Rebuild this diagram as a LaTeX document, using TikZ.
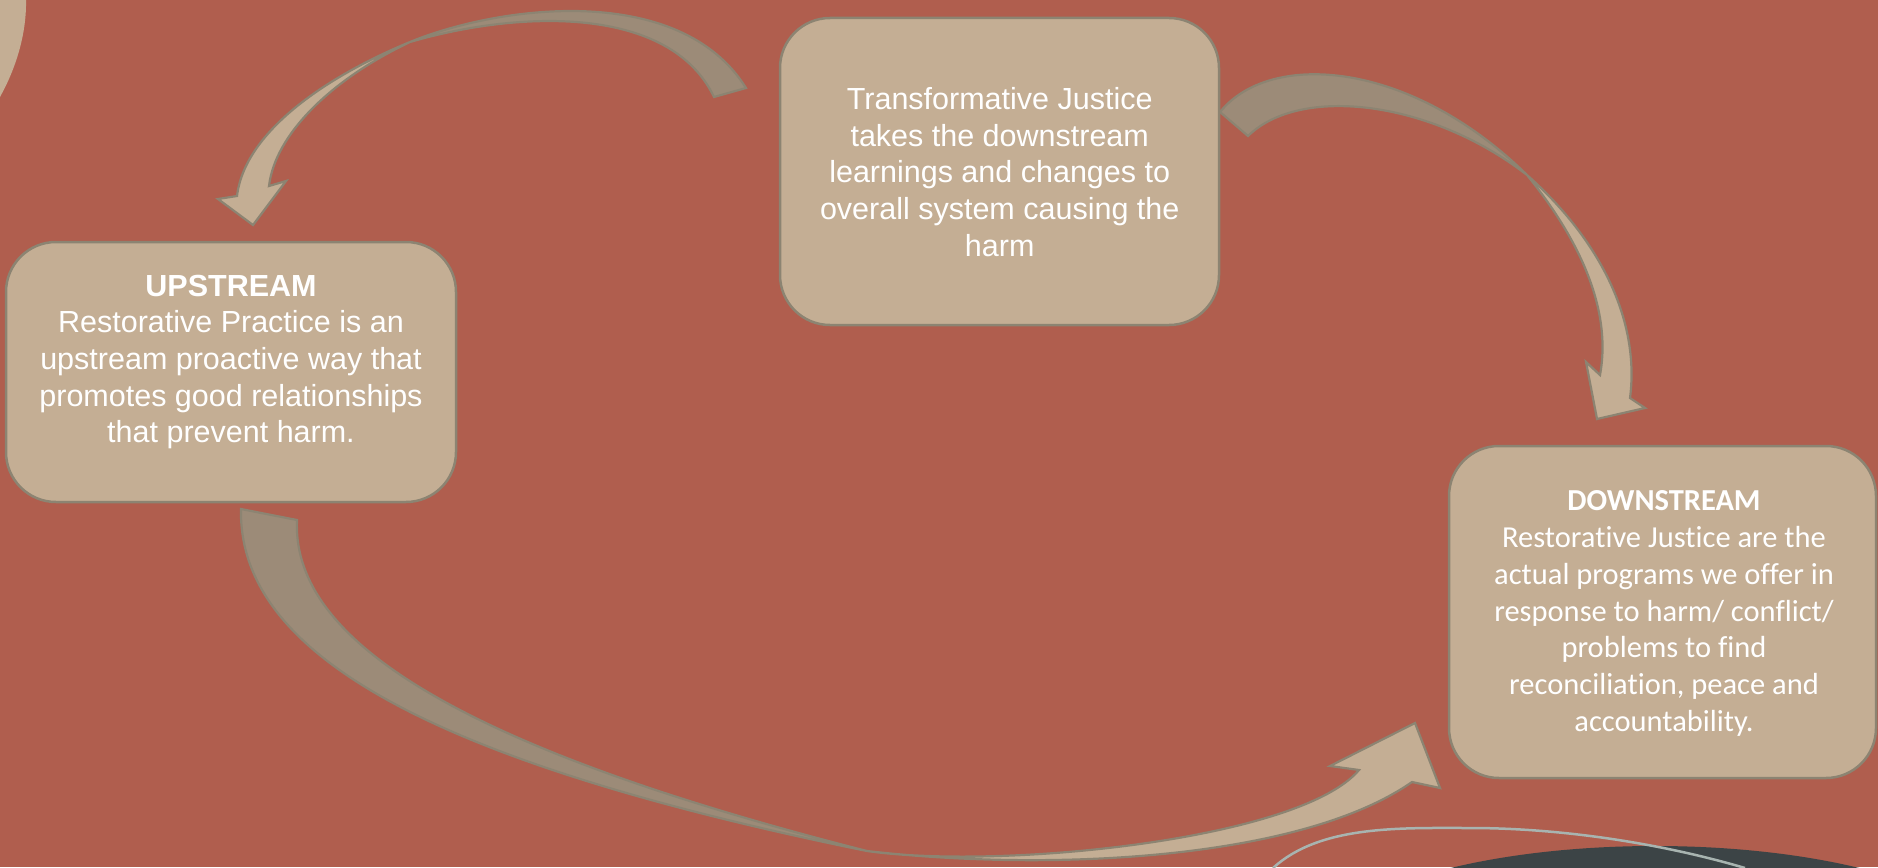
\documentclass[tikz,border=0pt]{standalone}
\usepackage{fontspec}
\setmainfont{Liberation Sans}
\newfontfamily\calibrifont[Ligatures=NoCommon,RawFeature={-liga;-clig;-dlig}]{Carlito}
\definecolor{bg}{HTML}{B05E4E}
\definecolor{tanfill}{HTML}{C4AE94}
\definecolor{tandark}{HTML}{9C8B78}
\definecolor{edgecol}{HTML}{8C8472}
\definecolor{slate}{HTML}{3C4446}
\definecolor{thinline}{HTML}{A8B4B0}
\begin{document}
\begin{tikzpicture}[x=1pt,y=-1pt,
  box/.style={draw=edgecol, line width=2.5pt, fill=tanfill, rounded corners=50pt, inner sep=0pt},
  face/.style={fill=tanfill, draw=edgecol, line width=2.2pt, line join=miter},
  backface/.style={fill=tandark, draw=edgecol, line width=2.2pt, line join=miter},
  txt/.style={text=white, inner sep=0pt, anchor=base, font=\fontsize{30.5}{36.7}\selectfont}]
\useasboundingbox (0,0) rectangle (1878,867);
\clip (0,0) rectangle (1878,867);
\fill[bg] (0,0) rectangle (1878,867);
% decorative shapes
\fill[tanfill] (0,-2) -- (26,-2) .. controls (27,35) and (15,70) .. (0,97) -- cycle;
\fill[slate] (1655,960) ellipse [x radius=346pt, y radius=114pt];
\draw[thinline, line width=2.5pt] (1273,868) .. controls (1320,825) and (1400,828) .. (1470,828) .. controls (1560,828) and (1660,843) .. (1745,868);
% boxes
\node[box, minimum width=439pt, minimum height=307pt] (tj) at (999.5,171.5) {};
\node[box, minimum width=450pt, minimum height=260pt] (up) at (231,372) {};
\node[box, minimum width=427pt, minimum height=332pt] (dn) at (1662.5,612) {};
% texts
\node[txt] (tjt) at (999.7,109.3) {\begin{tabular}[t]{@{}c@{}}Transformative Justice\\takes the downstream\\learnings and changes to\\overall system causing the\\harm\end{tabular}};
\node[txt] (upt) at (231,296) {\begin{tabular}[t]{@{}c@{}}\textbf{UPSTREAM}\\Restorative Practice is an\\upstream proactive way that\\promotes good relationships\\that prevent harm.\end{tabular}};
\node[txt, font=\calibrifont\fontsize{30.5}{36.8}\selectfont] (dnt) at (1664,510.7) {\begin{tabular}[t]{@{}c@{}}\textbf{DOWNSTREAM}\\Restorative Justice are the\\actual programs we offer in\\response to harm/ conflict/\\problems to find\\reconciliation, peace and\\accountability.\end{tabular}};
% arrow 1: transformative -> upstream
\draw[backface] (410,42) .. controls (500,5) and (680,-18) .. (746,88) -- (714,97) .. controls (670,5) and (520,10) .. (410,42) -- cycle;
\draw[face] (410,42) .. controls (330,75) and (245,130) .. (237,196) -- (218,199) -- (253,225) -- (286,181) -- (269,186) .. controls (275,135) and (330,80) .. (410,42) -- cycle;
% arrow 2: transformative -> downstream
\draw[backface] (1220,112) .. controls (1270,50) and (1410,60) .. (1527,175) .. controls (1430,100) and (1300,85) .. (1248,136) -- cycle;
\draw[face] (1527,175) .. controls (1600,240) and (1640,320) .. (1630,398) -- (1645,408) -- (1597,419) -- (1586,362) -- (1600,375) .. controls (1612,310) and (1580,240) .. (1527,175) -- cycle;
% arrow 3: upstream -> downstream
\draw[backface] (241,509) .. controls (238,650) and (420,760) .. (867,851) .. controls (430,740) and (292,630) .. (297,520) -- cycle;
\draw[face] (867,851) .. controls (1000,870) and (1300,840) .. (1359,770) -- (1330,766) -- (1415,723) -- (1440,788) -- (1412,782) .. controls (1300,860) and (1050,872) .. (867,851) -- cycle;
\end{tikzpicture}
\end{document}
